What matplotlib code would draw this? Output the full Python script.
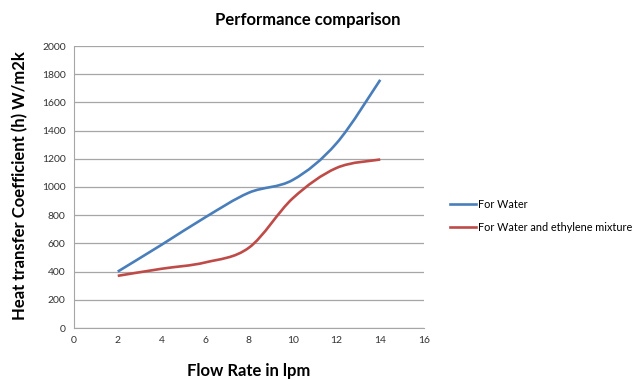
import matplotlib
matplotlib.use("Agg")
import matplotlib.pyplot as plt
from matplotlib.path import Path
from matplotlib.patches import PathPatch
from matplotlib.lines import Line2D

flow_lpm = [2, 4, 6, 8, 10, 12, 14]
h_water = [400, 590, 785, 960, 1050, 1310, 1760]
h_mix = [370, 420, 465, 570, 920, 1135, 1195]
series_names = ["For Water", "For Water and ethylene mixture"]
colors = ["#4A7EBB", "#BE4B48"]

plt.rcParams["font.family"] = ["Lato", "DejaVu Sans"]


def smooth_path(xs, ys):
    # Excel-style smoothed line: cubic Bezier through every data point
    n = len(xs)
    verts = [(xs[0], ys[0])]
    codes = [Path.MOVETO]
    for i in range(n - 1):
        i0, i3 = max(i - 1, 0), min(i + 2, n - 1)
        c1 = (xs[i] + (xs[i + 1] - xs[i0]) / 6, ys[i] + (ys[i + 1] - ys[i0]) / 6)
        c2 = (xs[i + 1] - (xs[i3] - xs[i]) / 6, ys[i + 1] - (ys[i3] - ys[i]) / 6)
        verts += [c1, c2, (xs[i + 1], ys[i + 1])]
        codes += [Path.CURVE4] * 3
    return Path(verts, codes)


fig = plt.figure(figsize=(6.33, 3.8), dpi=100)
ax = fig.add_axes([74 / 633, 1 - 328 / 380, 350 / 633, 282 / 380])

for ys, c in zip([h_water, h_mix], colors):
    ax.add_patch(PathPatch(smooth_path(flow_lpm, ys), fill=False, edgecolor=c, lw=1.9))

ax.set_xlim(0, 16)
ax.set_ylim(0, 2000)
ax.set_xticks(range(0, 17, 2))
ax.set_yticks(range(0, 2001, 200))
ax.tick_params(length=0, labelsize=7.5, colors="#333333", pad=6)
ax.grid(axis="y", color="#a6a6a6", lw=0.9)
ax.set_axisbelow(True)
for s in ["top", "right"]:
    ax.spines[s].set_visible(False)
for s in ["left", "bottom"]:
    ax.spines[s].set_color("#a6a6a6")

fig.text(308 / 633, 1 - 20 / 380, "Performance comparison", ha="center", va="center",
         fontsize=12, weight="bold")
fig.text(249 / 633, 1 - 371 / 380, "Flow Rate in lpm", ha="center", va="center",
         fontsize=12, weight="bold")
fig.text(20 / 633, 1 - 186 / 380, "Heat transfer Coefficient (h) W/m2k", ha="center",
         va="center", rotation=90, fontsize=12, weight="bold")

handles = [Line2D([], [], color=c, lw=1.9) for c in colors]
fig.legend(handles, series_names, loc="center left", bbox_to_anchor=(440 / 633, 1 - 216 / 380),
           frameon=False, fontsize=7.8, handlelength=2.4, handletextpad=0.2, labelspacing=1.1)

fig.savefig("out.png", dpi=100)
